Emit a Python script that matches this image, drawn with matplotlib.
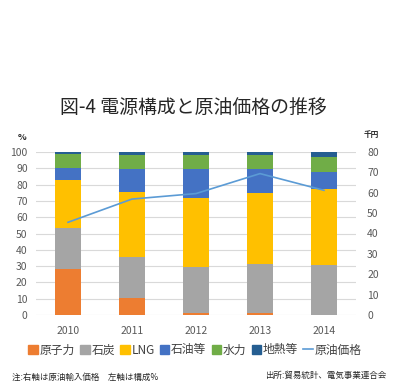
import matplotlib
matplotlib.use("Agg")
import matplotlib.pyplot as plt
from matplotlib.patches import Patch
from matplotlib.lines import Line2D

plt.rcParams['font.family'] = ['Noto Sans CJK JP', 'DejaVu Sans']

years = ['2010', '2011', '2012', '2013', '2014']
nuclear = [28.4, 10.6, 1.2, 1.0, 0.0]
coal = [25.2, 25.0, 28.0, 30.1, 30.9]
lng = [29.0, 39.7, 42.6, 43.5, 46.4]
oil = [7.8, 14.5, 18.0, 14.8, 10.6]
hydro = [8.6, 8.6, 8.6, 8.6, 9.0]
geo = [1.0, 1.6, 1.6, 2.0, 3.1]
crude = [45.5, 56.9, 59.6, 69.4, 61.2]

series = [('原子力', nuclear, '#ED7D31'), ('石炭', coal, '#A5A5A5'),
          ('LNG', lng, '#FFC000'), ('石油等', oil, '#4472C4'),
          ('水力', hydro, '#70AD47'), ('地熱等', geo, '#255E91')]
line_color = '#5B9BD5'

fig = plt.figure(figsize=(4.02, 3.87), dpi=100)
ax = fig.add_axes([36/402, 1-315/387, 320/402, 163/387])
x = list(range(len(years)))
bottom = [0]*len(years)
for name, vals, c in series:
    ax.bar(x, vals, width=0.42, bottom=bottom, color=c, zorder=2)
    bottom = [b+v for b, v in zip(bottom, vals)]
ax.set_ylim(0, 100)
ax.set_xlim(-0.5, 4.5)
ax.set_yticks(range(0, 101, 10))
ax.set_xticks(x)
ax.set_xticklabels(years)
ax.grid(axis='y', color='#D9D9D9', linewidth=0.8, zorder=0)
for s in ax.spines.values():
    s.set_visible(False)
ax.tick_params(length=0, labelsize=7.5, colors='#595959', pad=6)
ax.tick_params(axis='x', pad=8)

ax2 = ax.twinx()
ax2.plot(x, crude, color=line_color, linewidth=1.2, zorder=3)
ax2.set_ylim(0, 80)
ax2.set_yticks(range(0, 81, 10))
for s in ax2.spines.values():
    s.set_visible(False)
ax2.tick_params(length=0, labelsize=7.5, colors='#595959', pad=8)

fig.text(193.5/402, 1-107/387, '図-4 電源構成と原油価格の推移', ha='center', va='center',
         fontsize=13.6, color='#262626')
fig.text(22/402, 1-137/387, '%', ha='center', va='center', fontsize=6.5,
         color='#262626', fontweight='bold')
fig.text(371/402, 1-135/387, '千円', ha='center', va='center', fontsize=5.5,
         color='#262626', fontweight='bold')

handles = [Patch(color=c, label=n) for n, _, c in series]
handles.append(Line2D([0], [0], color=line_color, linewidth=1.2, label='原油価格'))
leg = fig.legend(handles=handles, loc='center', bbox_to_anchor=(0.485, 1-350/387),
                 ncol=7, frameon=False, fontsize=8.5, handlelength=0.8,
                 handleheight=0.7, handletextpad=0.15, columnspacing=0.45)
for t in leg.get_texts():
    t.set_color('#404040')

fig.text(12/402, 1-377/387, '注:右軸は原油輸入価格　左軸は構成%', ha='left', va='center',
         fontsize=6.1, color='#262626')
fig.text(386/402, 1-375/387, '出所:貿易統計、電気事業連合会', ha='right', va='center',
         fontsize=6.1, color='#262626')

fig.savefig('out.png', dpi=100, facecolor='white')
